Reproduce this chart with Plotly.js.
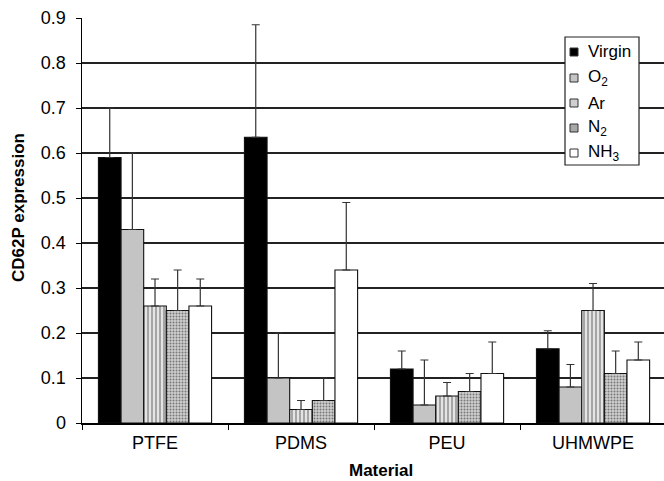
<!DOCTYPE html>
<html>
<head>
<meta charset="utf-8">
<script src="https://cdn.plot.ly/plotly-3.0.1.min.js"></script>
<style>html,body{margin:0;padding:0;background:#fff;}#chart{width:664px;height:481px;}</style>
</head>
<body>
<div id="chart"></div>
<script>
var materials = ["PTFE", "PDMS", "PEU", "UHMWPE"];
var seriesNames = ["Virgin", "O<sub>2</sub>", "Ar", "N<sub>2</sub>", "NH<sub>3</sub>"];
var virgin = [0.59, 0.635, 0.12, 0.165];
var o2 = [0.43, 0.10, 0.04, 0.08];
var ar = [0.26, 0.03, 0.06, 0.25];
var n2 = [0.25, 0.05, 0.07, 0.11];
var nh3 = [0.26, 0.34, 0.11, 0.14];
var virginErr = [0.11, 0.25, 0.04, 0.04];
var o2Err = [0.17, 0.10, 0.10, 0.05];
var arErr = [0.06, 0.02, 0.03, 0.06];
var n2Err = [0.09, 0.05, 0.04, 0.05];
var nh3Err = [0.06, 0.15, 0.07, 0.04];

var values = [virgin, o2, ar, n2, nh3];
var errs = [virginErr, o2Err, arErr, n2Err, nh3Err];
var fills = ["#000000", "#c4c4c4", "#e4e4e4", "#b8b8b8", "#ffffff"];
var swatchFills = ["#000000", "#c4c4c4", "#cfcfcf", "#a8a8a8", "#ffffff"];
var patterns = [
  {shape: ""},
  {shape: ""},
  {shape: "|", bgcolor: "#e4e4e4", fgcolor: "#8a8a8a", size: 4, solidity: 0.35},
  {shape: ".", bgcolor: "#cfcfcf", fgcolor: "#777777", size: 3, solidity: 0.35},
  {shape: ""}
];

var W = 664, H = 481, ML = 82, MR = 0, MT = 18, MB = 58;
var PW = W - ML - MR, PH = H - MT - MB;
function px(x) { return (x - ML) / PW; }
function py(y) { return 1 - (y - MT) / PH; }

var traces = values.map(function(v, i) {
  return {
    type: "bar",
    name: seriesNames[i],
    x: materials,
    y: v,
    showlegend: false,
    marker: {
      color: fills[i],
      line: {color: "#111111", width: 1.1},
      pattern: patterns[i]
    },
    error_y: {
      type: "data",
      symmetric: false,
      array: errs[i],
      arrayminus: v.map(function(){return 0;}),
      color: "#333333",
      thickness: 1.2,
      width: 4
    }
  };
});

var shapes = [];
var annotations = [];
// legend box
shapes.push({type: "rect", xref: "paper", yref: "paper",
  x0: px(565), x1: px(639), y0: py(165), y1: py(37),
  fillcolor: "#ffffff", line: {color: "#222", width: 1.2}, layer: "above"});
var itemY = [52, 78, 103, 128, 153];
seriesNames.forEach(function(n, i) {
  shapes.push({type: "rect", xref: "paper", yref: "paper",
    x0: px(570), x1: px(578), y0: py(itemY[i] + 4), y1: py(itemY[i] - 4),
    fillcolor: swatchFills[i], line: {color: "#333", width: 1}, layer: "above"});
  annotations.push({xref: "paper", yref: "paper", x: px(586), y: py(itemY[i]),
    xanchor: "left", yanchor: "middle", showarrow: false, text: n,
    font: {size: 17, color: "#000"}});
});
// axis titles
annotations.push({xref: "paper", yref: "paper", x: px(18), y: py(208),
  xanchor: "center", yanchor: "middle", showarrow: false, textangle: -90,
  text: "<b>CD62P expression</b>", font: {size: 17, color: "#000"}});
annotations.push({xref: "paper", yref: "paper", x: px(381), y: py(470),
  xanchor: "center", yanchor: "middle", showarrow: false,
  text: "<b>Material</b>", font: {size: 17, color: "#000"}});

var layout = {
  width: W,
  height: H,
  margin: {l: ML, r: MR, t: MT, b: MB},
  paper_bgcolor: "#ffffff",
  plot_bgcolor: "#ffffff",
  barmode: "group",
  bargap: 0.225,
  bargroupgap: 0,
  showlegend: false,
  font: {family: "Liberation Sans, Arial, sans-serif", size: 18, color: "#000"},
  xaxis: {
    type: "category",
    range: [-0.5, 3.486],
    showline: true,
    linecolor: "#000",
    linewidth: 1.5,
    ticks: "outside",
    tickson: "boundaries",
    ticklen: 5,
    tickcolor: "#000",
    showgrid: false,
    tickfont: {size: 18, color: "#000"},
    ticklabelstandoff: 3
  },
  yaxis: {
    range: [0, 0.9],
    dtick: 0.1,
    showline: true,
    linecolor: "#000",
    linewidth: 1.5,
    ticks: "outside",
    ticklen: 5,
    tickcolor: "#000",
    showgrid: true,
    gridcolor: "#222",
    gridwidth: 1.1,
    zeroline: false,
    tickfont: {size: 18, color: "#000"},
    ticklabelstandoff: 6
  },
  shapes: shapes,
  annotations: annotations
};

Plotly.newPlot("chart", traces, layout, {staticPlot: true, displayModeBar: false});
</script>
</body>
</html>
